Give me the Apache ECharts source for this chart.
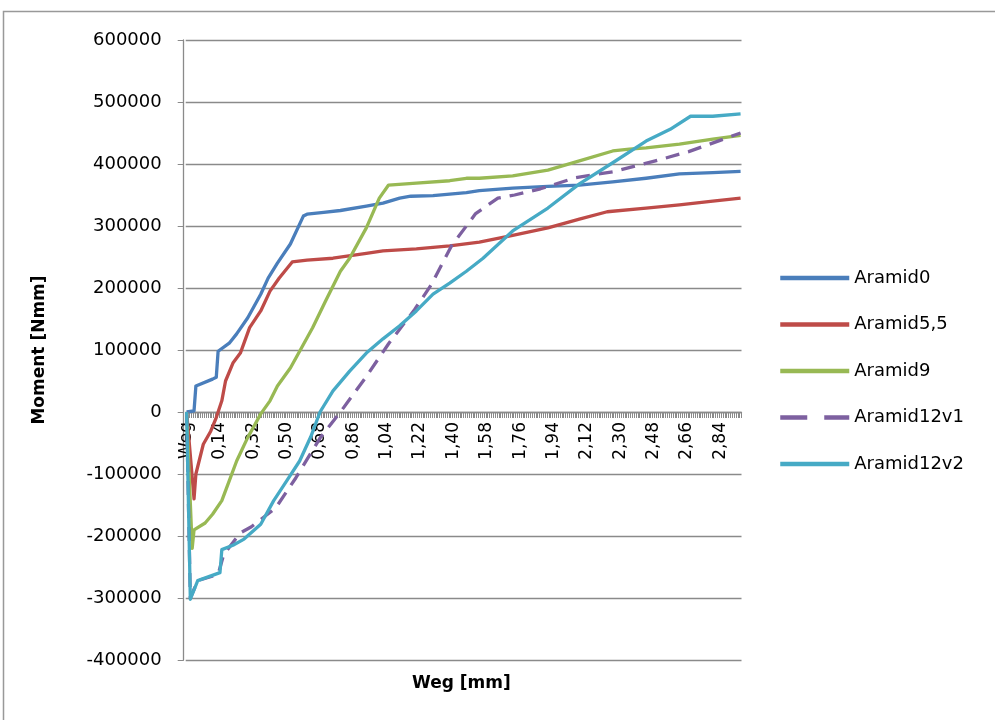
<!DOCTYPE html>
<html>
<head>
<meta charset="utf-8">
<script src="https://cdn.jsdelivr.net/npm/echarts@6/dist/echarts.min.js"></script>
<style>
html,body{margin:0;padding:0;background:#fff;}
#chart{width:995px;height:720px;}
</style>
</head>
<body>
<div id="chart"></div>
<script>
// x categories: header cell "Weg" followed by the displacement steps (mm)
const CATEGORY_COUNT = 300;
const categories = ['Weg'];
for (let i = 1; i < CATEGORY_COUNT; i++) {
  categories.push(((i - 4) / 100).toFixed(2).replace('.', ','));
}

const seriesNames = ['Aramid0', 'Aramid5,5', 'Aramid9', 'Aramid12v1', 'Aramid12v2'];

// [Weg category, Moment in Nmm]
const aramid0 = [
  ['Weg', 0], ['0,00', 2000], ['0,01', 42000], ['0,10', 53000], ['0,12', 56000],
  ['0,13', 98000], ['0,19', 111000], ['0,23', 126000], ['0,29', 152000], ['0,36', 190000],
  ['0,40', 216000], ['0,45', 240000], ['0,52', 271000], ['0,59', 316000], ['0,61', 319000],
  ['0,70', 322000], ['0,79', 325000], ['0,93', 332000], ['1,02', 337000], ['1,11', 345000],
  ['1,17', 348000], ['1,29', 349000], ['1,47', 354000], ['1,54', 357000], ['1,72', 361000],
  ['1,91', 364000], ['2,08', 366000], ['2,26', 371000], ['2,44', 377000], ['2,62', 384000],
  ['2,80', 386000], ['2,95', 388000]
];
const aramid5_5 = [
  ['Weg', 0], ['0,00', -140000], ['0,01', -100000], ['0,05', -52000], ['0,09', -31000],
  ['0,12', -9000], ['0,15', 18000], ['0,17', 50000], ['0,21', 79000], ['0,25', 95000],
  ['0,30', 136000], ['0,36', 163000], ['0,41', 195000], ['0,46', 216000], ['0,53', 242000],
  ['0,61', 245000], ['0,75', 248000], ['0,93', 256000], ['1,02', 260000], ['1,20', 263000],
  ['1,38', 268000], ['1,54', 274000], ['1,72', 285000], ['1,91', 297000], ['2,08', 311000],
  ['2,23', 323000], ['2,44', 329000], ['2,62', 334000], ['2,80', 340000], ['2,95', 345000]
];
const aramid9 = [
  ['Weg', 0], ['-0,01', -220000], ['0,00', -190000], ['0,06', -179000], ['0,10', -165000],
  ['0,15', -143000], ['0,19', -111000], ['0,23', -79000], ['0,29', -41000], ['0,32', -25000],
  ['0,36', -3000], ['0,41', 18000], ['0,45', 42000], ['0,52', 71000], ['0,57', 98000],
  ['0,64', 136000], ['0,71', 179000], ['0,79', 227000], ['0,84', 248000], ['0,93', 297000],
  ['1,00', 345000], ['1,05', 366000], ['1,20', 369000], ['1,38', 373000], ['1,47', 377000],
  ['1,54', 377000], ['1,72', 381000], ['1,91', 390000], ['2,08', 405000], ['2,26', 421000],
  ['2,35', 424000], ['2,44', 426000], ['2,62', 432000], ['2,80', 440000], ['2,95', 446000]
];
const aramid12v1 = [
  ['Weg', 0], ['-0,02', -300000], ['0,02', -272000], ['0,13', -262000], ['0,16', -230000],
  ['0,25', -195000], ['0,31', -185000], ['0,44', -155000], ['0,55', -106000], ['0,68', -42000],
  ['0,79', 0], ['0,92', 53000], ['1,05', 110000], ['1,19', 165000], ['1,28', 205000],
  ['1,39', 268000], ['1,52', 320000], ['1,64', 345000], ['1,73', 350000], ['1,87', 360000],
  ['2,06', 378000], ['2,27', 388000], ['2,49', 405000], ['2,67', 420000], ['2,95', 450000]
];
const aramid12v2 = [
  ['Weg', 0], ['-0,02', -302000], ['0,02', -272000], ['0,14', -259000], ['0,15', -222000],
  ['0,21', -215000], ['0,27', -205000], ['0,36', -181000], ['0,43', -143000], ['0,50', -111000],
  ['0,57', -79000], ['0,63', -40000], ['0,68', 0], ['0,75', 34000], ['0,84', 66000],
  ['0,93', 95000], ['1,02', 118000], ['1,11', 139000], ['1,20', 163000], ['1,29', 190000],
  ['1,38', 208000], ['1,47', 227000], ['1,56', 248000], ['1,72', 292000], ['1,91', 329000],
  ['2,08', 368000], ['2,26', 402000], ['2,44', 437000], ['2,57', 456000], ['2,68', 477000],
  ['2,80', 477000], ['2,95', 481000]
];

const seriesData = [aramid0, aramid5_5, aramid9, aramid12v1, aramid12v2];
const seriesColors = ['#4A7EBB', '#BE4B48', '#98B954', '#7D60A0', '#46AAC5'];

const yMin = -400000, yMax = 600000, yStep = 100000;
const FONT = 'DejaVu Sans';
const GRAY = '#8a8a8a';

const GRID_TOP = 40, GRID_BOTTOM = 60, CHART_H = 720;
const plotH = CHART_H - GRID_TOP - GRID_BOTTOM;
// move the category axis (line, ticks and labels) up to the value 0
const zeroOffset = -plotH * (0 - yMin) / (yMax - yMin);

const chart = echarts.init(document.getElementById('chart'), null, {renderer: 'canvas'});

chart.setOption({
  animation: false,
  backgroundColor: '#ffffff',
  grid: {left: 185.7, right: 253.5, top: GRID_TOP, bottom: GRID_BOTTOM, containLabel: false},
  legend: {
    orient: 'vertical',
    left: 773,
    top: 264,
    itemWidth: 69,
    itemHeight: 18,
    itemGap: 28.5,
    data: seriesNames.map((n, k) => k === 3
      ? {name: n, lineStyle: {type: [27, 17], width: 4.5}}
      : {name: n}),
    itemStyle: {opacity: 0},
    lineStyle: {width: 4.5},
    textStyle: {fontFamily: FONT, fontSize: 18, color: '#000'}
  },
  xAxis: {
    type: 'category',
    data: categories,
    boundaryGap: true,
    offset: zeroOffset,
    axisLine: {onZero: false, lineStyle: {color: GRAY, width: 1.3}},
    axisTick: {show: true, interval: 0, length: 6, lineStyle: {color: GRAY, width: 1}},
    axisLabel: {interval: 17, rotate: 90, margin: 10, fontFamily: FONT, fontSize: 17, color: '#000'},
    splitLine: {show: false}
  },
  yAxis: {
    type: 'value',
    min: yMin, max: yMax, interval: yStep,
    offset: 2,
    name: 'Moment [Nmm]',
    nameLocation: 'middle',
    nameGap: 136,
    nameTextStyle: {fontFamily: FONT, fontSize: 17, fontWeight: 'bold', color: '#000'},
    axisLine: {show: true, lineStyle: {color: GRAY, width: 1.3}},
    axisTick: {show: true, length: 6, lineStyle: {color: GRAY}},
    axisLabel: {margin: 22, fontFamily: FONT, fontSize: 18, color: '#000',
                formatter: v => String(v)},
    splitLine: {show: true, lineStyle: {color: GRAY, width: 1.3}}
  },
  graphic: [
    {type: 'rect', shape: {x: 3.5, y: 11.5, width: 1100, height: 800},
     style: {fill: null, stroke: '#999', lineWidth: 1.5}, silent: true, z: -10},
    {type: 'text', left: 412, top: 675,
     style: {text: 'Weg [mm]', font: 'bold 17px "DejaVu Sans"', fill: '#000'}}
  ],
  series: seriesNames.map((name, k) => ({
    name: name,
    type: 'line',
    data: seriesData[k],
    symbol: 'none',
    color: seriesColors[k],
    lineStyle: {color: seriesColors[k], width: 3.3, type: k === 3 ? [14, 9] : 'solid', cap: 'butt', join: 'round'},
    z: 2 + k
  }))
});
</script>
</body>
</html>
